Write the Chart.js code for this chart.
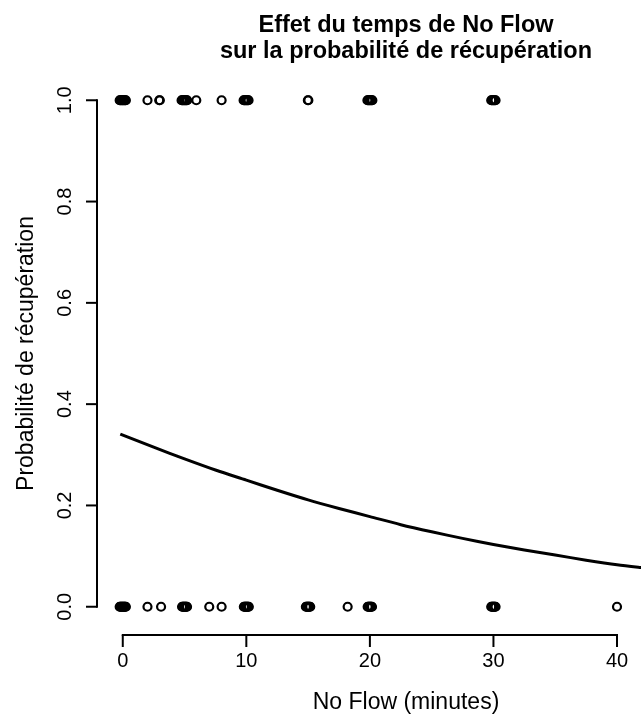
<!DOCTYPE html>
<html>
<head>
<meta charset="utf-8">
<script src="https://cdn.jsdelivr.net/npm/chart.js@4/dist/chart.umd.min.js"></script>
<style>
  html, body { margin: 0; padding: 0; background: #ffffff; }
  #wrap { width: 641px; height: 715px; position: relative; }
</style>
</head>
<body>
<div id="wrap"><canvas id="c" width="641" height="715"></canvas></div>
<script>
// ---- Data ----
const titleLines = ["Effet du temps de No Flow", "sur la probabilité de récupération"];
const xLabel = "No Flow (minutes)";
const yLabel = "Probabilité de récupération";
const xTicks = [0, 10, 20, 30, 40];
const yTicks = [0.0, 0.2, 0.4, 0.6, 0.8, 1.0];
const yTickLabels = ["0.0", "0.2", "0.4", "0.6", "0.8", "1.0"];

// Observations (jittered No Flow times) with outcome 1 (recovered)
const recoveredX = [-0.25, -0.2, -0.15, -0.1, -0.05, 0, 0.05, 0.1, 0.15, 0.2, 0.25,
  2, 3, 2.95,
  4.76, 4.81, 4.86, 4.91, 4.96, 5.01, 5.06, 5.11, 5.16, 5.21,
  5.95,
  8,
  9.78, 9.83, 9.88, 9.93, 9.98, 10.03, 10.08, 10.13, 10.18,
  14.98, 15.02,
  19.8, 19.85, 19.9, 19.95, 20.0, 20.05, 20.1, 20.15, 20.2,
  29.82, 29.87, 29.92, 29.97, 30.02, 30.07, 30.12, 30.17];
// Observations with outcome 0 (not recovered)
const notRecoveredX = [-0.25, -0.2, -0.15, -0.1, -0.05, 0, 0.05, 0.1, 0.15, 0.2, 0.25,
  2, 3.1,
  4.8, 4.85, 4.9, 4.95, 5.0, 5.05, 5.1, 5.15, 5.2,
  7, 8,
  9.8, 9.85, 9.9, 9.95, 10.0, 10.05, 10.1, 10.15, 10.2,
  14.82, 14.87, 14.92, 14.97, 15.02, 15.07, 15.12, 15.17,
  18.2,
  19.82, 19.87, 19.92, 19.97, 20.02, 20.07, 20.12, 20.17,
  29.82, 29.87, 29.92, 29.97, 30.02, 30.07, 30.12, 30.17,
  40];

// Fitted probability curve
const curveX = [-0.2, 2.5, 5, 7.5, 10, 12.5, 15, 17.5, 20, 22.5, 25, 27.5, 30, 32.5, 35, 37.5, 40, 42.5];
const curveP = [0.341, 0.315, 0.292, 0.270, 0.250, 0.230, 0.211, 0.194, 0.178, 0.162, 0.148, 0.135, 0.123, 0.112, 0.102, 0.092, 0.083, 0.076];

const FONT = '"Liberation Sans", Arial, Helvetica, sans-serif';

const rAxes = {
  id: 'rAxes',
  afterDraw(chart) {
    const ctx = chart.ctx;
    const xs = chart.scales.x, ys = chart.scales.y;
    ctx.save();
    ctx.strokeStyle = '#000';
    ctx.fillStyle = '#000';
    ctx.lineWidth = 2;
    ctx.lineCap = 'butt';

    // x axis
    const xAxisY = 635;
    const x0 = xs.getPixelForValue(xTicks[0]);
    const x1 = xs.getPixelForValue(xTicks[xTicks.length - 1]);
    ctx.beginPath();
    ctx.moveTo(x0 - 1, xAxisY);
    ctx.lineTo(x1 + 1, xAxisY);
    ctx.stroke();
    ctx.font = '20px ' + FONT;
    ctx.textAlign = 'center';
    ctx.textBaseline = 'alphabetic';
    xTicks.forEach(v => {
      const px = xs.getPixelForValue(v);
      ctx.beginPath();
      ctx.moveTo(px, xAxisY);
      ctx.lineTo(px, xAxisY + 12);
      ctx.stroke();
      ctx.fillText(String(v), px, 667);
    });

    // y axis
    const yAxisX = 97;
    const yTop = ys.getPixelForValue(yTicks[yTicks.length - 1]);
    const yBot = ys.getPixelForValue(yTicks[0]);
    ctx.beginPath();
    ctx.moveTo(yAxisX, yTop - 1);
    ctx.lineTo(yAxisX, yBot + 1);
    ctx.stroke();
    yTicks.forEach((v, i) => {
      const py = ys.getPixelForValue(v);
      ctx.beginPath();
      ctx.moveTo(yAxisX, py);
      ctx.lineTo(yAxisX - 11, py);
      ctx.stroke();
      ctx.save();
      ctx.translate(71, py);
      ctx.rotate(-Math.PI / 2);
      ctx.textAlign = 'center';
      ctx.fillText(yTickLabels[i], 0, 0);
      ctx.restore();
    });

    // axis titles
    ctx.font = '23px ' + FONT;
    ctx.textAlign = 'center';
    ctx.fillText(xLabel, 406, 709);
    ctx.save();
    ctx.translate(33, (ys.top + ys.bottom) / 2);
    ctx.rotate(-Math.PI / 2);
    ctx.fillText(yLabel, 0, 0);
    ctx.restore();

    // main title
    ctx.font = 'bold 23.5px ' + FONT;
    ctx.fillText(titleLines[0], 406, 32);
    ctx.fillText(titleLines[1], 406, 58);
    ctx.restore();
  }
};

const pointStyle = {
  pointRadius: 4,
  pointBorderWidth: 2.2,
  pointBackgroundColor: 'rgba(255,255,255,0)',
  pointBorderColor: '#000',
  showLine: false
};

new Chart(document.getElementById('c'), {
  type: 'scatter',
  data: {
    datasets: [
      Object.assign({ label: 'Récupération = 1', data: recoveredX.map(x => ({ x: x, y: 1 })) }, pointStyle),
      Object.assign({ label: 'Récupération = 0', data: notRecoveredX.map(x => ({ x: x, y: 0 })) }, pointStyle),
      {
        label: 'Probabilité prédite',
        type: 'line',
        data: curveX.map((x, i) => ({ x: x, y: curveP[i] })),
        borderColor: '#000',
        borderWidth: 3,
        pointRadius: 0,
        fill: false,
        tension: 0.3,
        clip: false
      }
    ]
  },
  options: {
    responsive: false,
    animation: false,
    devicePixelRatio: 1,
    layout: { padding: { left: 103, right: 0, top: 80, bottom: 88 } },
    plugins: { legend: { display: false }, tooltip: { enabled: false }, title: { display: false } },
    scales: {
      x: { type: 'linear', min: -1.6, max: 41.44, display: false },
      y: { type: 'linear', min: -0.04, max: 1.04, display: false }
    }
  },
  plugins: [rAxes]
});
</script>
</body>
</html>
